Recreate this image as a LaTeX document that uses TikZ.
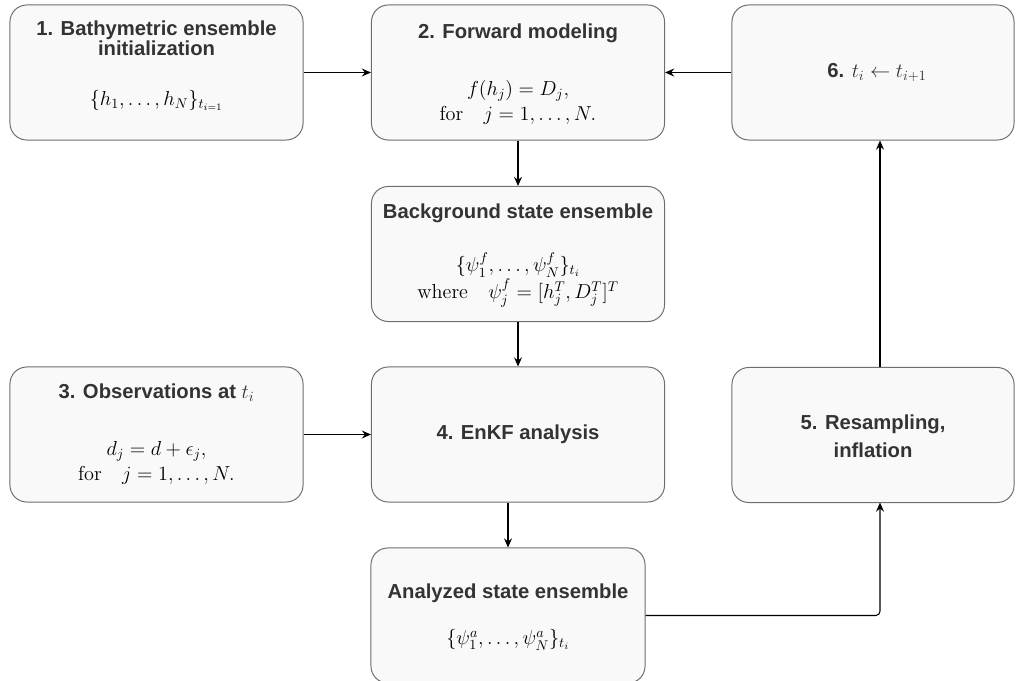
\documentclass[tikz,border=0pt]{standalone}
\usepackage{amsmath,amssymb}
\usepackage{fontspec}
\newfontfamily\headfont{Liberation Sans}
\usepackage{xcolor}
\usepackage{tikz}
\usetikzlibrary{arrows.meta,positioning,calc}
\definecolor{boxFill}{HTML}{F9F9F9}
\definecolor{boxLine}{HTML}{6E6E6E}
\definecolor{headGray}{HTML}{333333}

\begin{document}
\begin{tikzpicture}[x=0.025cm, y=-0.025cm,
  stage/.style={draw=boxLine, line width=0.7pt, fill=boxFill, rounded corners=0.42cm, minimum height=3.375cm},
  wide/.style={stage, minimum width=7.325cm},
  narrow/.style={stage, minimum width=7.05cm},
  head/.style={font=\fontsize{14.4}{14.4}\selectfont\headfont\bfseries, text=headGray, align=center, inner sep=0pt},
  eq/.style={font=\fontsize{14.4}{17.7}\selectfont, align=center, inner sep=0pt},
  flow/.style={-{Stealth[length=2.3mm,width=2mm,inset=0.8mm]}, line width=0.75pt, black}]
\useasboundingbox (0,0) rectangle (1016,681);
% --- boxes ---
\node[wide] (init) at (156.5,72.5) {};
\node[wide] (fwd) at (518,72.5) {};
\node[narrow] (tstep) at (873,72.5) {};
\node[wide] (bgens) at (518,254) {};
\node[wide] (obs) at (156.5,434.5) {};
\node[wide] (enkf) at (518,434.5) {};
\node[narrow] (resamp) at (873,435) {};
\node[stage, minimum width=6.85cm] (anens) at (508,615.5) {};
% --- texts ---
\node[head] (initT) at (156.5,38) {1. Bathymetric ensemble\\initialization};
\node[eq] (initM) at (156.5,100) {$\{h_1,\ldots,h_N\}_{t_{i=1}}$};
\node[head] (fwdT) at (518,33) {2. Forward modeling};
\node[eq] (fwdM) at (518,102.5) {$f(h_j)=D_j,$\\$\text{for}\quad j=1,\ldots,N.$};
\node[head] (tstepT) at (877,72.5) {6. $t_i\leftarrow t_{i+1}$};
\node[head] (bgensT) at (518,213) {Background state ensemble};
\node[eq] (bgensM) at (518,279.5) {$\{\psi_1^f,\ldots,\psi_N^f\}_{t_i}$\\$\text{where}\quad \psi_j^f=[h_j^T,D_j^T]^T$};
\node[head] (obsT) at (156.5,393) {3. Observations at $t_i$};
\node[eq] (obsM) at (156.5,462.5) {$d_j=d+\epsilon_j,$\\$\text{for}\quad j=1,\ldots,N.$};
\node[head] (enkfT) at (518,434.5) {4. EnKF analysis};
\node[head, font=\fontsize{14.4}{20}\selectfont\headfont\bfseries] (resampT) at (873,436.5) {5. Resampling,\\inflation};
\node[head] (anensT) at (508,593) {Analyzed state ensemble};
\node[eq] (anensM) at (508,640) {$\{\psi_1^a,\ldots,\psi_N^a\}_{t_i}$};
% --- connectors ---
\coordinate (loopx) at (880,502.5);
\draw[flow] (init) -- (fwd);
\draw[flow] (tstep) -- (fwd);
\draw[flow] (fwd) -- (bgens);
\draw[flow] (bgens) -- (enkf);
\draw[flow] (obs) -- (enkf);
\draw[flow] (anens.north |- enkf.south) -- (anens);
\draw[flow, rounded corners=3pt] (anens.east) -| (loopx);
\draw[flow] (resamp.north -| loopx) -- (tstep.south -| loopx);
\end{tikzpicture}
\end{document}
